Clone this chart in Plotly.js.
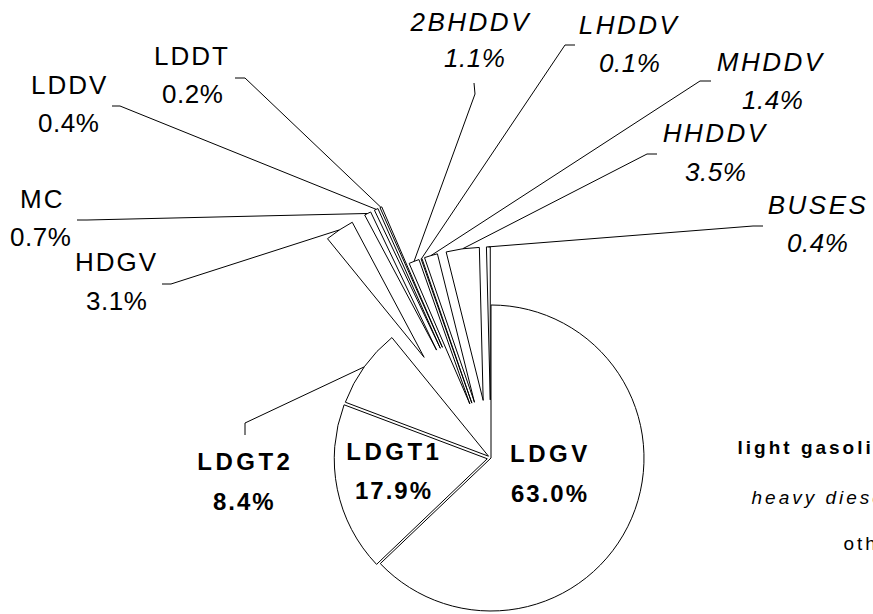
<!DOCTYPE html>
<html><head><meta charset="utf-8">
<script src="https://cdn.plot.ly/plotly-3.0.1.min.js"></script>
<style>
html,body{margin:0;padding:0;overflow:hidden;background:#fff;}
#wrap{width:873px;height:614px;overflow:hidden;position:relative;}
#chart{width:873px;height:1000px;}
</style></head><body>
<div id="wrap"><div id="chart"></div></div>
<script>
// ---------------- data ----------------
const categories = ['LDGV','LDGT1','LDGT2','HDGV','MC','LDDV','LDDT','2BHDDV','LHDDV','MHDDV','HHDDV','BUSES'];
const shares     = [63.0, 17.9, 8.4, 3.1, 0.7, 0.4, 0.2, 1.1, 0.1, 1.4, 3.5, 0.4];
const vehicleGroup = ['light','light','light','other','other','other','other','heavy','heavy','heavy','heavy','heavy'];
const groupNames = ['light gasoline vehicles','heavy diesel vehicles','other'];
const groupKeys  = ['light','heavy','other'];

// ---------------- styles / layout config ----------------
const W = 873, H = 1000;
const PIE_R = 153, CX = 491, CY = 458;
const slicePull = [0, 0.025, 0.02, 0.79, 0.79, 0.79, 0.79, 0.38, 0.38, 0.38, 0.38, 0.38];
const FONT = 'Liberation Sans, Arial, sans-serif';
const groupStyle = {
  light: {weight: 'bold', style: 'normal', size: 24, lsName: 3.5, lsPct: 2},
  heavy: {weight: 'normal', style: 'italic', size: 26, lsName: 2.5, lsPct: 0.5},
  other: {weight: 'normal', style: 'normal', size: 26, lsName: 2, lsPct: 0.5}
};
// label placement in pixels: name centre, percent centre, leader stub (from, to) or null
const labelPos = {
  'LDGV':  {name: [550, 453], pct: [550, 493], stub: null},
  'LDGT1': {name: [394, 451], pct: [394, 490], stub: null},
  'LDGT2': {name: [245, 461], pct: [244, 501], stub: [[245, 435], [245, 423]]},
  'HDGV':  {name: [117, 262], pct: [116, 301], stub: [[162, 284], [171, 284]]},
  'MC':    {name: [42, 199],  pct: [40, 237],  stub: [[77, 220], [87, 220]]},
  'LDDV':  {name: [70, 85],   pct: [68, 123],  stub: [[112, 106], [120, 106]]},
  'LDDT':  {name: [192, 56],  pct: [192, 94],  stub: [[235, 78], [245, 78]]},
  '2BHDDV':{name: [472, 22],  pct: [475, 58],  stub: [[474, 83], [475, 94]]},
  'LHDDV': {name: [630, 25],  pct: [629, 63],  stub: [[575, 45], [565, 45]]},
  'MHDDV': {name: [772, 62],  pct: [772, 100], stub: [[711, 81], [700, 81]]},
  'HHDDV': {name: [716, 133], pct: [715, 172], stub: [[657, 154], [647, 154]]},
  'BUSES': {name: [818, 205], pct: [817, 243], stub: [[763, 226], [753, 226]]}
};
const legendPos = {light: 447, heavy: 497, other: 543};
const legendStyle = {light: {weight: 'bold', style: 'normal'}, heavy: {weight: 'normal', style: 'italic'}, other: {weight: 'normal', style: 'normal'}};

const px = x => x / W;
const py = y => 1 - y / H;

// pie domain so that radius/center match
const maxPull = Math.max(...slicePull);
const rx = PIE_R * (1 + maxPull);
const ry = 300;
const domain = {x: [(CX - rx) / W, (CX + rx) / W], y: [1 - (CY + ry) / H, 1 - (CY - ry) / H]};

const pctText = shares.map(v => v.toFixed(1) + '%');

const annotations = [];
const spacing = [];
categories.forEach((c, i) => {
  const g = groupStyle[vehicleGroup[i]];
  const lp = labelPos[c];
  const f = {family: FONT, size: g.size, color: '#000', weight: g.weight, style: g.style};
  annotations.push({text: c, x: px(lp.name[0]), y: py(lp.name[1]), xref: 'paper', yref: 'paper',
    xanchor: 'center', yanchor: 'middle', showarrow: false, font: f});
  spacing.push(g.lsName);
  annotations.push({text: pctText[i], x: px(lp.pct[0]), y: py(lp.pct[1]), xref: 'paper', yref: 'paper',
    xanchor: 'center', yanchor: 'middle', showarrow: false, font: f});
  spacing.push(g.lsPct);
});
groupKeys.forEach((k, j) => {
  annotations.push({text: groupNames[j], x: 1.0, y: py(legendPos[k]), xref: 'paper', yref: 'paper',
    xanchor: 'center', yanchor: 'middle', showarrow: false,
    font: {family: FONT, size: 19, color: '#000', weight: legendStyle[k].weight, style: legendStyle[k].style}});
  spacing.push(3);
});

const trace = {
  type: 'pie',
  labels: categories,
  values: shares,
  sort: false,
  direction: 'clockwise',
  rotation: 0,
  pull: slicePull,
  textinfo: 'none',
  hoverinfo: 'label+percent',
  marker: {colors: categories.map(() => '#ffffff'), line: {color: '#000000', width: 1}},
  domain: domain,
  showlegend: false
};

const layout = {
  width: W, height: H,
  margin: {l: 0, r: 0, t: 0, b: 0},
  paper_bgcolor: '#ffffff',
  showlegend: false,
  annotations: annotations
};

const gd = document.getElementById('chart');
Plotly.newPlot(gd, [trace], layout, {staticPlot: true}).then(() => {
  const cd = gd.calcdata[0];
  const cd0 = cd[0];
  const r = cd0.r, cx = cd0.cx, cy = cd0.cy;
  const shapes = [];
  cd.forEach(pt => {
    const i = pt.i;
    const lp = labelPos[categories[i]];
    if (!lp.stub) return;
    const pull = slicePull[i];
    let mx, my;
    if (pt.pxmid) { mx = pt.pxmid[0]; my = pt.pxmid[1]; }
    else { const a = pt.halfangle; mx = r * Math.cos(a); my = -r * Math.sin(a); }
    const ex = cx + mx * (1 + pull), ey = cy + my * (1 + pull);
    const path = 'M' + px(lp.stub[0][0]) + ',' + py(lp.stub[0][1]) +
      'L' + px(lp.stub[1][0]) + ',' + py(lp.stub[1][1]) +
      'L' + px(ex) + ',' + py(ey);
    shapes.push({type: 'path', xref: 'paper', yref: 'paper', path: path, line: {color: '#000', width: 1}});
  });
  return Plotly.relayout(gd, {shapes: shapes});
}).then(() => {
  document.querySelectorAll('#chart g.annotation').forEach(g => {
    const idx = +g.getAttribute('data-index');
    const t = g.querySelector('text');
    if (t && spacing[idx] !== undefined) t.style.letterSpacing = spacing[idx] + 'px';
  });
});
</script>
</body></html>
